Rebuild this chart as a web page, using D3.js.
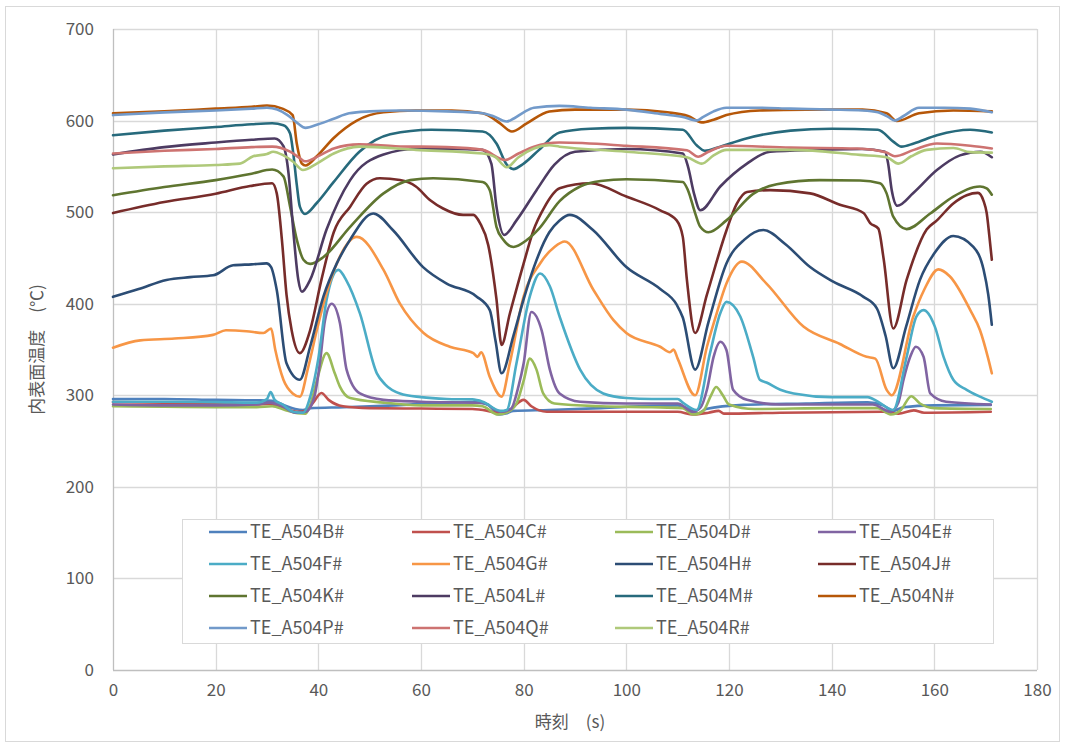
<!DOCTYPE html>
<html>
<head>
<meta charset="utf-8">
<script src="https://cdn.jsdelivr.net/npm/d3@7"></script>
<style>
  body { margin: 0; background: #fff; }
  svg { display: block; }
  text { font-family: "Noto Sans CJK JP", "Noto Sans", sans-serif; fill: #595959; }
</style>
</head>
<body>
<svg id="chart" width="1065" height="746"></svg>
<script>
// Thermocouple readings: [time (s), inner-surface temperature (°C)]
const TE_A504B = [[0,296],[10,296],[20,295],[28,294.5],[31,294],[33,290],[35.5,285],[37,284],[38.4,286],[45,287],[55,289],[65,292],[70.7,292.3],[73,290],[75.2,279],[76.5,280],[78,283],[85,284],[95,286],[105,288.5],[110,289],[112.5,284],[114,280],[115.5,285],[122.8,289.5],[135,291],[147,292.3],[150,289],[152,283],[154,287],[160,289],[171,289.5]];
const TE_A504C = [[0,292.5],[10,292],[20,291],[28,290],[30.5,290.5],[33,286],[36,282],[37.5,283],[39,292],[40.6,302.5],[42,295],[44.8,288],[50,286],[60,285.5],[70,285],[73,283],[75.5,280],[77.5,285],[80,295],[81.5,288],[84.5,282],[95,282],[110,282],[113,279],[116,281],[118,283],[119,280],[130,281],[150,282],[153,280],[156,283.5],[158,281],[171,282]];
const TE_A504D = [[0,288],[10,287.5],[20,287],[28,287],[31,288],[33.5,284],[36,280.5],[37.5,280],[38.4,289],[39.7,316],[41.6,346],[43.2,324],[44.2,309.5],[46.2,297],[52.7,292],[60,289],[70,289],[72,288],[75,279],[77,282],[78.6,291],[80,316],[81.2,340],[82.5,328],[83.8,302],[86,291],[95,288],[105,287],[111,286],[113,279],[115,283],[116.5,300],[117.5,309],[118.8,300],[120,290],[125,285],[140,286],[149,286],[151.5,279],[153.5,284],[155.5,299],[157.2,291],[160,286],[171,285]];
const TE_A504E = [[0,290],[10,289],[20,289],[28,290],[30.5,292],[33,288],[35.5,281],[37.5,282],[39.3,300],[40.3,335],[41.3,382],[42.6,400],[44.2,379],[45.5,328],[48.1,302],[52.7,295],[60,293],[72,291.5],[75.5,282],[77.5,285],[79,310],[80,335],[81.5,391],[83.5,371],[85.1,328],[87,302],[91,293],[100,291],[110,291],[113,282],[114.5,287],[115.7,306],[117,342],[118.3,358.5],[119.5,349.5],[120.8,306],[123.5,295],[130,290],[140,290],[148,290],[151.5,282],[153,292],[154,317],[155.3,342],[156.4,353],[157.9,342],[159.2,302],[162.3,293],[171,290]];
const TE_A504F = [[0,293],[10,293],[20,292.5],[28,292],[30,296],[30.7,303.5],[31.5,295],[33,290],[35.1,282],[37,281],[38.5,300],[40,340],[41.6,404],[43.9,437],[45.5,425],[48.1,389.5],[51.4,324],[53,312],[55.9,302],[60,298],[65,296],[70,295.5],[72,293],[75.5,283],[76.7,284],[78.6,335],[81.2,408],[83.2,433],[85.1,419],[87,386],[91,328],[95.5,302],[100,297],[105,296],[110,296],[111,292],[113.7,284],[116.3,346],[118.3,389.5],[119.5,402],[122.2,386],[124.7,342],[126,317],[127.3,314],[130,306],[132.6,302],[140,298],[147,298],[149,293],[152,284],[154.6,342],[156.5,386],[157.9,393],[160.1,375],[161.8,342],[163.7,317],[166.3,306],[168.9,298.5],[171.2,293]];
const TE_A504G = [[0,352],[5.3,360],[12,362],[19.5,366],[22,371],[26,370],[29.3,368],[30.8,373],[31.6,350],[33.2,317],[35,302],[36.4,298.5],[38,330],[39.7,371],[41.5,410],[43.6,444],[47.5,473],[52.7,437],[55.9,400],[60.5,368],[65.6,353],[70.2,346],[71,342],[71.7,347],[73.4,320],[75.7,298.5],[77.3,335],[80,408],[83.2,444],[86,462],[88,468],[93.6,415],[97.5,382],[100,368],[106.6,353],[108.5,347],[109.2,350],[110,340],[113.4,300],[115.7,353],[117.6,389.5],[119.5,422],[122.5,446],[127.3,422],[134.5,375],[141.6,356],[146.8,342],[148.5,340],[150.7,306],[151.7,300],[155.9,386],[158,415],[160.8,437.5],[163,430],[167,393],[168.9,371],[170.5,340],[171.2,324]];
const TE_A504H = [[0,407.5],[5,416],[10.4,426],[15,429],[19.5,431],[23.4,442],[27,443],[29.9,444],[30.8,440],[31.9,415],[33.8,335],[36.4,317],[38.4,353],[41,408],[43.6,444],[46.2,470],[50.7,498.5],[54.6,480],[60.4,440],[65,422],[70.8,408],[73.4,393],[74.5,360],[75.7,324],[78,365],[80,405],[82,440],[85,478],[87,491],[89,497],[93.5,480.5],[100,440],[106.6,416],[109.8,399],[111,385],[113.4,328],[116,380],[119.5,444],[123,470],[126.7,480.5],[131,465],[135.8,440],[140.3,424],[146.2,407.5],[148.8,395],[150.5,365],[152,329.5],[154.5,375],[157.2,426],[160,455],[163.7,474],[167.6,462],[169.6,437],[170.5,410],[171.2,377]];
const TE_A504J = [[0,499],[10,511],[20,520],[26.7,528.5],[31,531.5],[31.9,520.5],[32.9,470],[33.8,410],[34.8,371],[36.4,346],[38.4,371],[40.6,426],[43,478],[46.2,506],[49.4,531],[52,537],[55.9,535],[59,528],[61.8,513],[64.3,504],[68.2,497],[70.2,497],[71.5,488],[73.1,464],[74.7,405],[75.7,355],[77.3,389],[80,444],[81.9,480],[84,505],[87,526],[93,531.5],[100,517],[106.6,502],[109.8,491],[111,473],[111.8,426],[113.4,368],[115.7,410],[119.5,480],[121.5,509],[123.5,522],[128,524],[135.8,520.5],[141.6,508],[146.2,499],[147.5,488],[149.1,482],[150.1,450],[152,373],[154.6,426],[158.5,481],[160.5,491],[163.7,509.5],[166.3,518.5],[168.5,521],[169.6,512],[170.2,499],[170.7,475],[171.2,448]];
const TE_A504K = [[0,518.5],[10,527.5],[20,535],[27,542],[31,546.5],[33.2,539],[34.5,506],[35.8,470],[37.1,448],[38.4,443.5],[41,451],[46.2,484],[52.7,520.5],[57.9,535],[62.4,537],[72,533],[73.4,524],[74.7,484],[76,470],[78,462],[80.6,469.5],[83,482],[87,512],[91,528],[95,534],[100,536],[111,533],[112,524],[113.4,499],[114.4,484],[116,478],[119.5,491],[124.7,520],[129.3,530.5],[137.7,535],[145.5,534.5],[149.4,531.5],[150.7,520.5],[152,495],[154.6,481.5],[159.2,498.5],[163.7,517],[168.9,528],[170.2,526],[171.2,519]];
const TE_A504L = [[0,563],[10,571],[20,576],[27,579],[31.5,580.5],[33.2,572],[34.2,542],[35.1,481],[36.1,426],[36.8,413],[38.4,426],[41.6,481],[46.2,535],[52.7,563],[59,569],[66,569],[72,568],[73.7,553],[74.7,506],[76.2,475],[78.6,491],[82.5,524],[86,552],[90,566],[100,569],[111,564],[112,550],[113.2,520],[114.4,502],[118.3,528],[123.5,553],[128,566],[137,568],[146,569],[150.4,566],[151,553],[151.7,524],[152.8,507],[155.9,521],[160.5,546],[165,562],[169,566],[171.2,560]];
const TE_A504M = [[0,584],[10,589],[20,593],[27,596],[31,597],[33.2,595],[34.5,586],[35.1,565],[35.8,530],[36.4,506],[37.4,498],[39.7,510],[43,533],[48,566],[54,585],[62,590],[72,588],[74.7,575],[76.7,552],[78,547],[80,553],[83,568],[87,587],[93,591],[100,592],[111,590],[113.7,573],[115.3,567],[118,571],[123,580],[132,589],[140,591],[149,590],[152,577],[153.6,571.5],[156,575],[160.5,584],[167,590],[171.2,587]];
const TE_A504N = [[0,608],[10,610],[20,613],[27,615],[30,616.5],[33,613],[35,606],[35.8,575],[36.8,553],[37.5,551],[39.7,561],[43,581],[47.5,600],[52.7,609],[59,611],[66,611],[72,608],[75.4,597],[77.7,588],[80.6,597],[85,610],[90,612],[100,612],[108,609],[112,605],[114.7,598],[117,601],[119.5,606],[126,611],[135,612],[146,612],[150.7,608],[152.7,599.5],[157,608],[163.7,611],[171.2,610]];
const TE_A504P = [[0,606],[10,609],[20,611],[27,613],[30,614],[32,612],[34,606],[36,597],[37.5,592],[40,596],[43,602],[46,608],[50,610],[56,611],[65,610],[72,608],[74,605],[76.7,599],[78,602],[80,609],[82,614],[87,616],[93,614],[100,612],[107,607],[111,604],[113.7,600],[115,604],[117,610],[119.5,614],[125,614],[132,613],[140,612],[146,611],[149,609],[151,604],[152.3,600],[154,605],[157,614],[162,614],[167,613],[171.2,609]];
const TE_A504Q = [[0,564],[10,567],[20,569],[27,571],[31,571.5],[34.5,566],[36.4,559],[37.4,555.5],[40.3,562],[43,569.5],[48,574],[55,572],[65,571],[72,568],[76.4,557],[79,564],[82,571.5],[87,576],[100,572.5],[111.8,567.5],[114,560.5],[116,566],[119.5,572.5],[132,570.5],[145,569.5],[150.7,565],[152.3,561],[156,568],[160.5,575],[167,572.5],[171.2,569.5]];
const TE_A504R = [[0,548],[10,550],[20,551.5],[24.7,553],[27.3,561],[30,563.5],[31.2,566],[33.2,562],[35.1,555],[37,546],[39.7,553],[43,564],[48,571.5],[59,568],[72,564],[74.5,560],[76.7,549],[79,560],[82,569.5],[85,573],[87,571.5],[100,566],[111.8,560],[114.7,553],[117,562],[119.5,568],[132.5,568],[145.5,562.5],[150.7,560],[153,553],[155.5,561],[158.5,568],[163.7,570],[167,565.5],[171.2,565]];

const seriesNames = ["TE_A504B#","TE_A504C#","TE_A504D#","TE_A504E#","TE_A504F#","TE_A504G#","TE_A504H#","TE_A504J#","TE_A504K#","TE_A504L#","TE_A504M#","TE_A504N#","TE_A504P#","TE_A504Q#","TE_A504R#"];
const seriesData = [TE_A504B,TE_A504C,TE_A504D,TE_A504E,TE_A504F,TE_A504G,TE_A504H,TE_A504J,TE_A504K,TE_A504L,TE_A504M,TE_A504N,TE_A504P,TE_A504Q,TE_A504R];
const seriesColors = ["#4F81BD","#C0504D","#9BBB59","#8064A2","#4BACC6","#F79646","#2C4D75","#772C2A","#5F7530","#4D3B62","#276A7C","#B65708","#729ACA","#CD7371","#AFC97A"];

const xTicks = [0,20,40,60,80,100,120,140,160,180];
const yTicks = [0,100,200,300,400,500,600,700];
const xTitle = "時刻　(s)";
const yTitle = "内表面温度　(℃)";

const svg = d3.select("#chart");
const plot = { left: 113, right: 1037, top: 29, bottom: 670 };

const x = d3.scaleLinear().domain([0, 180]).range([plot.left, plot.right]);
const y = d3.scaleLinear().domain([0, 700]).range([plot.bottom, plot.top]);

// outer chart frame
svg.append("rect")
  .attr("x", 5.5).attr("y", 6.5).attr("width", 1054).attr("height", 735)
  .attr("fill", "#fff").attr("stroke", "#d9d9d9").attr("stroke-width", 1);

// gridlines
const grid = svg.append("g");
grid.selectAll("line.h").data(yTicks.filter(d => d > 0)).join("line")
  .attr("x1", plot.left).attr("x2", plot.right)
  .attr("y1", d => Math.round(y(d)) + 0.5).attr("y2", d => Math.round(y(d)) + 0.5)
  .attr("stroke", "#d9d9d9").attr("stroke-width", 1.3);
grid.selectAll("line.v").data(xTicks.filter(d => d > 0)).join("line")
  .attr("y1", plot.top).attr("y2", plot.bottom)
  .attr("x1", d => Math.round(x(d)) + 0.5).attr("x2", d => Math.round(x(d)) + 0.5)
  .attr("stroke", "#d9d9d9").attr("stroke-width", 1.3);

// axis lines
svg.append("line").attr("x1", plot.left + 0.5).attr("x2", plot.left + 0.5)
  .attr("y1", plot.top).attr("y2", plot.bottom)
  .attr("stroke", "#bfbfbf").attr("stroke-width", 1.3);
svg.append("line").attr("x1", plot.left).attr("x2", plot.right)
  .attr("y1", plot.bottom + 0.5).attr("y2", plot.bottom + 0.5)
  .attr("stroke", "#bfbfbf").attr("stroke-width", 1.3);

// tick labels
const yAxis = svg.append("g").attr("transform", `translate(${plot.left},0)`)
  .call(d3.axisLeft(y).tickValues(yTicks).tickSize(0).tickPadding(19).tickFormat(d3.format("d")));
const xAxis = svg.append("g").attr("transform", `translate(0,${plot.bottom})`)
  .call(d3.axisBottom(x).tickValues(xTicks).tickSize(0).tickPadding(14).tickFormat(d3.format("d")));
[yAxis, xAxis].forEach(a => {
  a.select(".domain").remove();
  a.selectAll("text").attr("fill", "#595959").style("font-size", "17px")
    .style("font-family", '"Noto Sans CJK JP", sans-serif');
});

// series lines
const line = d3.line()
  .x(d => x(d[0]))
  .y(d => y(d[1]))
  .curve(d3.curveMonotoneX);

svg.append("g").selectAll("path").data(seriesData).join("path")
  .attr("d", line)
  .attr("fill", "none")
  .attr("stroke", (d, i) => seriesColors[i])
  .attr("stroke-width", 2.6)
  .attr("stroke-linejoin", "round")
  .attr("stroke-linecap", "round");

// axis titles
svg.append("text").attr("x", (plot.left + plot.right) / 2 - 5).attr("y", 728)
  .attr("text-anchor", "middle").style("font-size", "17px").text(xTitle);
svg.append("text").attr("transform", `translate(43,${(plot.top + plot.bottom) / 2}) rotate(-90)`)
  .attr("text-anchor", "middle").style("font-size", "17px").text(yTitle);

// legend
const legend = svg.append("g");
legend.append("rect")
  .attr("x", 182.5).attr("y", 519.5).attr("width", 811).attr("height", 124)
  .attr("fill", "#fff").attr("stroke", "#d9d9d9").attr("stroke-width", 1);
const colX = [209, 412, 615, 818];
const rowY = [532, 564, 596, 628];
const items = legend.selectAll("g.item").data(seriesNames).join("g")
  .attr("transform", (d, i) => `translate(${colX[i % 4]},${rowY[Math.floor(i / 4)]})`);
items.append("line").attr("x1", 0).attr("x2", 38).attr("y1", 0).attr("y2", 0)
  .attr("stroke", (d, i) => seriesColors[i]).attr("stroke-width", 2.6);
items.append("text").attr("x", 41).attr("y", 0).attr("dy", "0.35em")
  .style("font-size", "18px").text(d => d);
</script>
</body>
</html>
